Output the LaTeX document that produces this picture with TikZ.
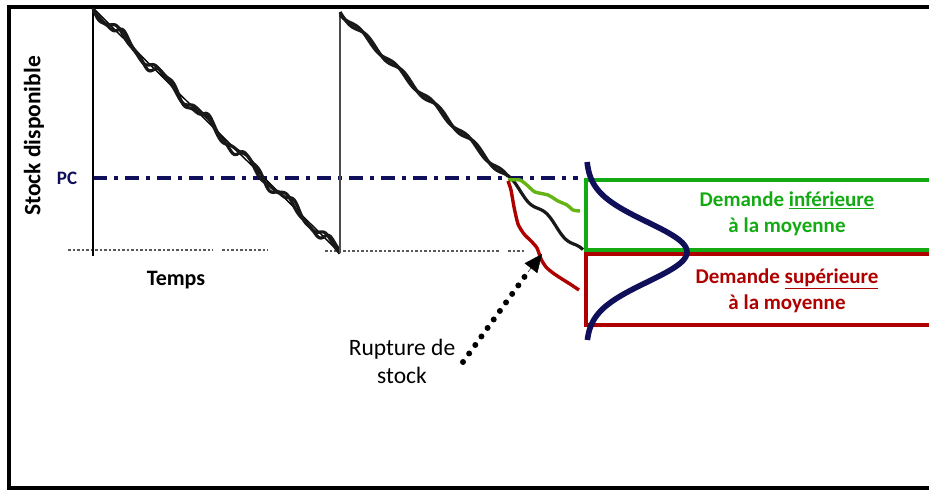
\documentclass[tikz,border=0pt]{standalone}
\usepackage{fontspec}
\setmainfont{Carlito}
\usetikzlibrary{arrows.meta}
\definecolor{navy}{RGB}{15,15,90}
\definecolor{dgreen}{RGB}{20,170,20}
\definecolor{lgreen}{RGB}{100,180,20}
\definecolor{dred}{RGB}{175,0,0}
\begin{document}
\begin{tikzpicture}[x=1pt,y=-1pt,
  frameline/.style={line width=3.2pt,black},
  wave/.style={line width=3.2pt,black!90},
  guide/.style={gray!70!black,line width=1.6pt,dash pattern=on 2.5pt off 2pt},
  lbl/.style={font=\fontsize{21}{25}\selectfont\bfseries,align=center,inner sep=0pt},
  boxline/.style={line width=3.6pt}]
\useasboundingbox (0,0) rectangle (929,491);
% frame
\draw[frameline] (929,7) -- (9,7) -- (9,488) -- (929,488);
% axis label
\node[rotate=90,font=\fontsize{23.5}{26}\selectfont\bfseries,inner sep=0pt] (ylab) at (34,136) {Stock disponible};
\node[font=\fontsize{19}{20}\selectfont\bfseries,text=navy,inner sep=0pt] (pc) at (67,178) {PC};
\node[font=\fontsize{22}{24}\selectfont\bfseries,inner sep=0pt] (temps) at (176,280) {Temps};
% dotted baselines
\draw[guide] (68,250) -- (213,250) (222,250) -- (268,250);
\draw[guide] (325,251) -- (500,251) (508,251) -- (525,251);
% PC line
\draw[navy,line width=4pt,dash pattern=on 14pt off 7pt on 4pt off 7pt] (93,178) -- (578,178);
% cycle 1
\draw[line width=2.8pt] (93,8) -- (93,256);
\draw[line width=1.4pt] (93,8) -- (340,253);
\draw[wave] plot[domain=93:340,samples=200] (\x,{8+(\x-93)*0.992+6*sin(8.6*(\x-93))+2*sin(21*(\x-93))});
\draw[wave] plot[domain=93:340,samples=200] (\x,{8+(\x-93)*0.992+4.5*sin(8.6*(\x-93)+45)-1.5*sin(19*(\x-93))});
% cycle 2
\draw[line width=2pt,gray!60!black] (340,12) -- (340,253);
\draw[wave] plot[domain=340:583,samples=200] (\x,{12+(\x-340)*0.992+3.4*sin(10*(\x-340))});
\draw[wave] plot[domain=340:508,samples=150] (\x,{12+(\x-340)*0.992+3*sin(10*(\x-340)+70)});
% deviations
\draw[lgreen,line width=3.4pt,line join=round] plot[smooth,tension=0.4] coordinates {(508,180) (520,180) (528,186) (535,192) (548,195) (558,201) (567,205) (573,210) (580,211)};
\draw[dred,line width=3.4pt,line join=round] plot[smooth,tension=0.4] coordinates {(508,181) (511,190) (514,207) (518,224) (524,234) (531,241) (537,248) (541,259) (546,267) (553,273) (562,279) (570,284) (579,290)};
% boxes
\draw[dgreen,boxline] (929,180) -- (586,180) -- (586,250) -- (929,250);
\draw[dred,boxline] (929,254) -- (586,254) -- (586,325) -- (929,325);
% normal curve
\draw[navy,line width=5.6pt] plot[domain=162:340,samples=140] ({586+101*exp(-((\x-252)^2)/1800)},\x);
% labels
\node[lbl,text=dgreen] (inf) at (787,214) {Demande \underline{inférieure}\\[1pt] à la moyenne};
\node[lbl,text=dred] (sup) at (787,291) {Demande \underline{supérieure}\\[1pt] à la moyenne};
% rupture
\node[font=\fontsize{23.5}{28}\selectfont,align=center,inner sep=0pt] (rupt) at (402,361) {Rupture de\\stock};
\coordinate (ds) at (463,362);
\coordinate (de) at (528,272);
\coordinate (tip) at (542,254);
\draw[line width=6pt,line cap=round,dash pattern=on 0pt off 10.5pt] (ds) -- (de);
\draw[line width=0.5pt,-{Triangle[length=18pt,width=16pt]}] (de) -- (tip);
\end{tikzpicture}
\end{document}
